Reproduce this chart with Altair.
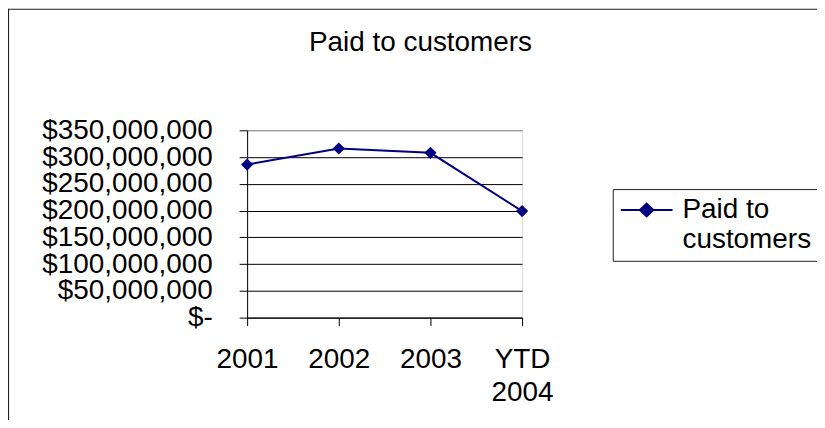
import altair as alt
import pandas as pd

years = ["2001", "2002", "2003", "YTD 2004"]
paid = [286000000, 316000000, 308000000, 199000000]
series_name = "Paid to customers"
legend_lines = ["Paid to", "customers"]
y_ticks = [0, 50000000, 100000000, 150000000, 200000000, 250000000, 300000000, 350000000]

df = pd.DataFrame({"year": years, "paid": paid, "series": [series_name] * len(years)})

FONT = "Liberation Sans"
NAVY = "#000080"
FS = 28

x = alt.X(
    "year:N",
    sort=years,
    scale=alt.Scale(type="point", padding=0),
    axis=alt.Axis(
        title=None, labelAngle=0, labelExpr="split(datum.label, ' ')",
        labelLineHeight=33, labelFontSize=FS, labelFont=FONT, labelColor="black",
        tickSize=8, tickColor="black", domainColor="black", labelPadding=20, grid=False,
        labelOverlap=False,
    ),
)
y = alt.Y(
    "paid:Q",
    scale=alt.Scale(domain=[0, 350000000], nice=False, zero=True),
    axis=alt.Axis(
        title=None, values=y_ticks,
        labelExpr="datum.value === 0 ? '$-' : '$' + format(datum.value, ',')",
        labelFontSize=FS, labelFont=FONT, labelColor="black", labelPadding=27,
        labelOverlap=False, labelBound=False, labelFlush=False,
        tickSize=8, tickColor="black", domainColor="black",
        grid=True,
        gridColor={"condition": {"test": "datum.value >= 350000000", "value": "#808080"}, "value": "black"},
        gridOpacity=1,
    ),
)

# legend symbol: a 52px line with a diamond in its middle (custom path, unit r = 13px)
legend_path = "M-1,0H3M1,-0.49L1.52,0L1,0.49L0.48,0Z"
color = alt.Color(
    "series:N",
    scale=alt.Scale(domain=[series_name], range=[NAVY]),
    legend=alt.Legend(
        title=None, orient="none", legendX=367, legendY=59,
        symbolType=legend_path, symbolSize=676, symbolStrokeWidth=2,
        symbolFillColor=NAVY, symbolStrokeColor=NAVY,
        labelExpr="['" + legend_lines[0] + "', '" + legend_lines[1] + "']",
        labelFontSize=FS, labelFont=FONT, labelColor="black", labelLimit=400,
        labelOffset=35, labelBaseline="middle",
        strokeColor="#222222", fillColor="white", padding=7,
    ),
)

line = alt.Chart(df).mark_line(
    strokeWidth=2,
    point=alt.OverlayMarkDef(shape="diamond", size=150, filled=True, opacity=1, color=NAVY),
).encode(x=x, y=y, color=color)

border = alt.Chart(alt.Data(values=[{}])).mark_rect(
    fillOpacity=0, stroke="#222222", strokeWidth=1.2
).encode(x=alt.value(-239.5), x2=alt.value(1200), y=alt.value(-121.5), y2=alt.value(1200))

chart = alt.layer(border, line).properties(
    width=276,
    height=188,
    autosize=alt.AutoSizeParams(type="none"),
    padding={"left": 240, "top": 122, "right": 296, "bottom": 102},
    title=alt.Title(
        series_name, font=FONT, fontSize=FS, fontWeight="normal", color="black",
        frame="group", anchor="middle", dx=36, offset=0, dy=70, baseline="alphabetic",
    ),
).configure_view(
    stroke="#808080", fill="#C0C0C0", strokeWidth=1
).configure(background="white")

chart.save("out.html", embed_options={"renderer": "svg", "actions": False})
